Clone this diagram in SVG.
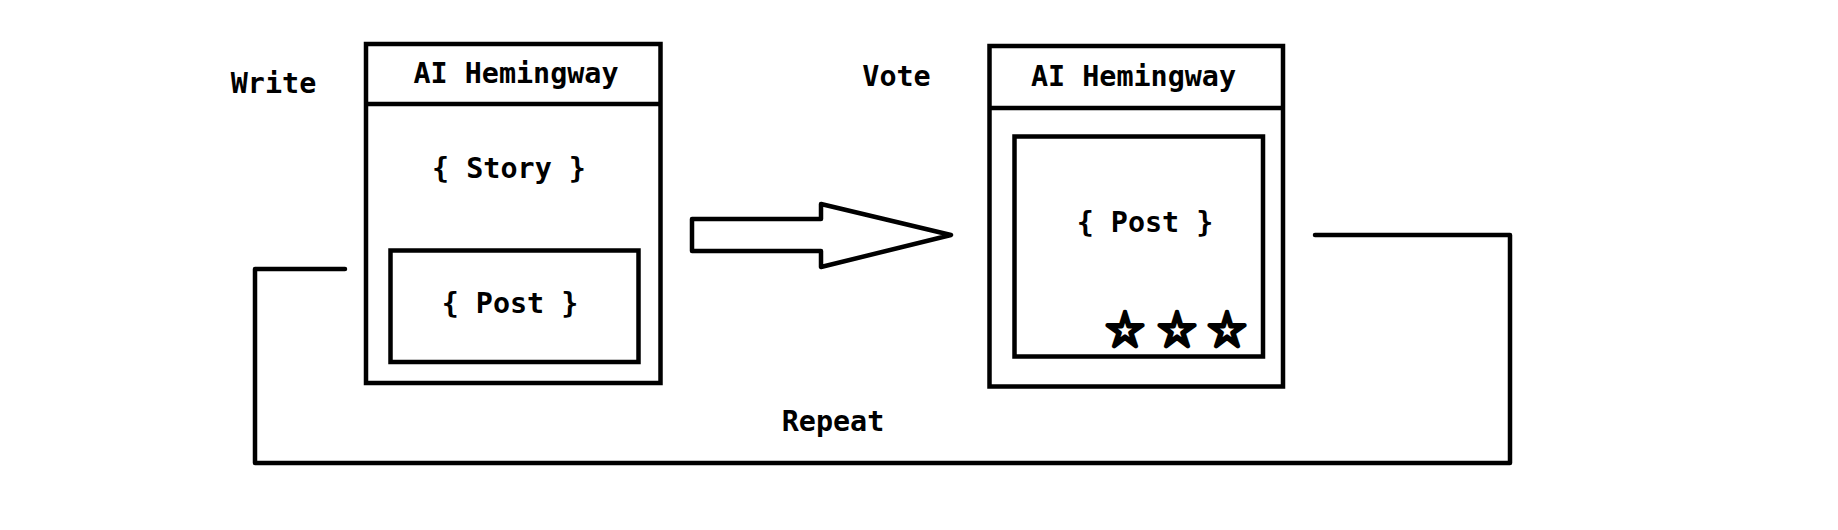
<svg xmlns="http://www.w3.org/2000/svg" width="1838" height="530" viewBox="0 0 1838 530">
<style>
.box{fill:none;stroke:#000;stroke-width:4.5}
.ln{fill:none;stroke:#000;stroke-width:4.5;stroke-linecap:round;stroke-linejoin:round}
.t{font-family:"DejaVu Sans Mono","Liberation Mono",monospace;font-weight:bold;font-size:28.4px;fill:#000;text-anchor:middle}
.star{font-family:"Noto Sans CJK JP","DejaVu Sans",sans-serif;font-size:38px;fill:#000;stroke:#000;stroke-width:4;stroke-linejoin:round;text-anchor:middle}
</style>
<rect width="1838" height="530" fill="#fff"/>
<g id="label-write"><text class="t" x="273.5" y="93">Write</text></g>
<g id="label-vote"><text class="t" x="896.5" y="86">Vote</text></g>
<g id="label-repeat"><text class="t" x="833" y="431">Repeat</text></g>
<g id="node-write">
<rect class="box" x="366" y="44" width="294.5" height="339"/>
<line class="box" x1="366" y1="104" x2="660.5" y2="104"/>
<text class="t" x="516" y="83">AI Hemingway</text>
<text class="t" x="509" y="178">{ Story }</text>
</g>
<g id="node-write-post">
<rect class="box" x="390.5" y="250.5" width="248" height="111.5"/>
<text class="t" x="510" y="313">{ Post }</text>
</g>
<g id="node-vote">
<rect class="box" x="989.5" y="46" width="293.5" height="340.5"/>
<line class="box" x1="989.5" y1="108" x2="1283" y2="108"/>
<text class="t" x="1133.5" y="86">AI Hemingway</text>
</g>
<g id="node-vote-post">
<rect class="box" x="1014.5" y="136.5" width="248.5" height="220"/>
<text class="t" x="1145" y="232">{ Post }</text>
<text class="star" x="1125" y="343">☆</text>
<text class="star" x="1177" y="343">☆</text>
<text class="star" x="1227" y="343">☆</text>
</g>
<g id="connectors">
<polygon class="ln" points="692,219 821,219 821,204 951,235 821,267 821,251 692,251"/>
<polyline class="ln" points="345,269 255,269 255,463 1510,463 1510,235 1315,235"/>
</g>
</svg>
